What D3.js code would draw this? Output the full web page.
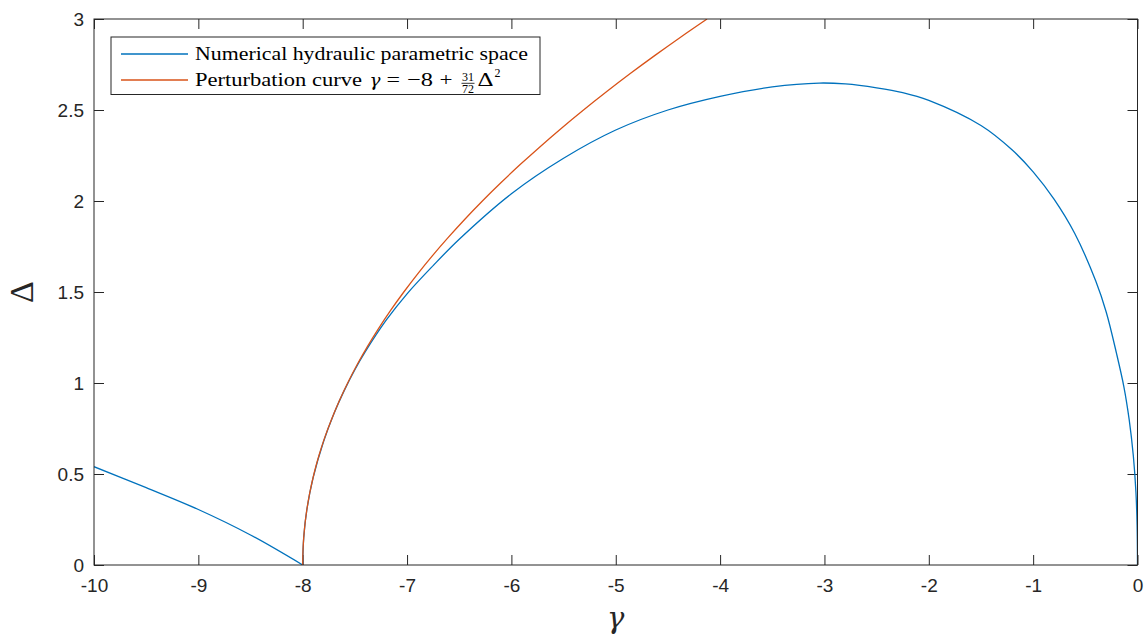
<!DOCTYPE html>
<html>
<head>
<meta charset="utf-8">
<script src="https://cdn.jsdelivr.net/npm/d3@7"></script>
<style>
  body { margin: 0; background: #fff; }
  svg { display: block; }
</style>
</head>
<body>
<svg id="chart" width="1146" height="637"></svg>
<script>
// Axis ticks
const gammaTicks = [-10, -9, -8, -7, -6, -5, -4, -3, -2, -1, 0];
const gammaTickLabels = ["-10", "-9", "-8", "-7", "-6", "-5", "-4", "-3", "-2", "-1", "0"];
const deltaTicks = [0, 0.5, 1, 1.5, 2, 2.5, 3];
const deltaTickLabels = ["0", "0.5", "1", "1.5", "2", "2.5", "3"];

// Numerical hydraulic parametric space: branch left of gamma = -8
const numLeftGamma = [-10, -9.5, -9, -8.5, -8];
const numLeftDelta = [0.54, 0.425, 0.305, 0.165, 0];

// Numerical hydraulic parametric space: arch from gamma = -8 to gamma = 0
const numArchGamma = [-8, -7.99, -7.96, -7.9, -7.8, -7.7, -7.6, -7.5, -7.4, -7.2, -7.0,
  -6.75, -6.5, -6.0, -5.5, -5.0, -4.5, -4.0, -3.5, -3.05, -2.8, -2.5, -2.25, -2.0, -1.5,
  -1.2, -1.0, -0.8, -0.6, -0.4, -0.3, -0.2, -0.13, -0.08, -0.04, -0.015, -0.004, 0];
const numArchDelta = [0, 0.152, 0.305, 0.48, 0.679, 0.833, 0.961, 1.073, 1.172, 1.345, 1.49,
  1.645, 1.79, 2.04, 2.235, 2.39, 2.50, 2.575, 2.627, 2.648, 2.643, 2.622, 2.596, 2.553, 2.415,
  2.28, 2.16, 2.01, 1.82, 1.56, 1.39, 1.16, 0.978, 0.80, 0.60, 0.40, 0.22, 0];

// Perturbation curve gamma = -8 + 31/72 Delta^2
const pertDelta = [0, 0.1, 0.2, 0.3, 0.4, 0.5, 0.6, 0.7, 0.8, 0.9, 1.0, 1.1, 1.2, 1.3, 1.4, 1.5,
  1.6, 1.7, 1.8, 1.9, 2.0, 2.1, 2.2, 2.3, 2.4, 2.5, 2.6, 2.7, 2.8, 2.9, 3.0];
const pertGamma = [-8, -7.9957, -7.9828, -7.9613, -7.9311, -7.8924, -7.845, -7.789, -7.724,
  -7.651, -7.569, -7.479, -7.380, -7.272, -7.156, -7.031, -6.898, -6.756, -6.605, -6.446,
  -6.278, -6.101, -5.916, -5.722, -5.520, -5.309, -5.089, -4.861, -4.624, -4.379, -4.125];

const seriesNames = ["Numerical hydraulic parametric space", "Perturbation curve"];
const seriesColors = ["#0072BD", "#D95319"];

const W = 1146, H = 637;
const margin = { left: 94, right: 8.5, top: 19, bottom: 72 };
const plotRight = W - margin.right, plotBottom = H - margin.bottom;

const svg = d3.select("#chart");
const x = d3.scaleLinear().domain([-10, 0]).range([margin.left, plotRight]);
const y = d3.scaleLinear().domain([0, 3]).range([plotBottom, margin.top]);

const axisColor = "#262626";
const tickFont = "'Liberation Sans', Arial, Helvetica, sans-serif";
const serif = "'Liberation Serif', 'Times New Roman', serif";
const greekSerif = "'DejaVu Serif', 'Liberation Serif', serif";

// Clip to the axes box
svg.append("defs").append("clipPath").attr("id", "plotClip")
  .append("rect")
  .attr("x", margin.left).attr("y", margin.top)
  .attr("width", plotRight - margin.left).attr("height", plotBottom - margin.top);

// Axes (ticks point inwards, on all four sides)
const bottomAxis = d3.axisBottom(x).tickValues(gammaTicks)
  .tickFormat((d, i) => gammaTickLabels[i]).tickSizeInner(-10).tickSizeOuter(0).tickPadding(14);
const topAxis = d3.axisTop(x).tickValues(gammaTicks).tickFormat("").tickSizeInner(-10).tickSizeOuter(0);
const leftAxis = d3.axisLeft(y).tickValues(deltaTicks)
  .tickFormat((d, i) => deltaTickLabels[i]).tickSizeInner(-10).tickSizeOuter(0).tickPadding(10);
const rightAxis = d3.axisRight(y).tickValues(deltaTicks).tickFormat("").tickSizeInner(-10).tickSizeOuter(0);

function styleAxis(g) {
  g.select(".domain").remove();
  g.selectAll(".tick line").attr("stroke", axisColor).attr("stroke-width", 1);
  g.selectAll(".tick text").attr("fill", axisColor)
    .style("font-family", tickFont).style("font-size", "19px");
}

svg.append("g").attr("transform", `translate(0,${plotBottom})`).call(bottomAxis).call(styleAxis);
svg.append("g").attr("transform", `translate(0,${margin.top})`).call(topAxis).call(styleAxis);
svg.append("g").attr("transform", `translate(${margin.left},0)`).call(leftAxis).call(styleAxis);
svg.append("g").attr("transform", `translate(${plotRight},0)`).call(rightAxis).call(styleAxis);

// Curves
const smooth = d3.curveCatmullRom.alpha(0.5);
const lineGD = d3.line().x(d => x(d[0])).y(d => y(d[1])).curve(smooth);

const plot = svg.append("g").attr("clip-path", "url(#plotClip)");
const numLeft = numLeftGamma.map((g, i) => [g, numLeftDelta[i]]);
const numArch = numArchGamma.map((g, i) => [g, numArchDelta[i]]);
const pert = pertDelta.map((d, i) => [pertGamma[i], d]);

[numLeft, numArch].forEach(seg => {
  plot.append("path").datum(seg).attr("d", lineGD)
    .attr("fill", "none").attr("stroke", seriesColors[0]).attr("stroke-width", 1.3);
});
plot.append("path").datum(pert).attr("d", lineGD)
  .attr("fill", "none").attr("stroke", seriesColors[1]).attr("stroke-width", 1.3);

// Axes box
svg.append("rect")
  .attr("x", margin.left).attr("y", margin.top)
  .attr("width", plotRight - margin.left).attr("height", plotBottom - margin.top)
  .attr("fill", "none").attr("stroke", axisColor).attr("stroke-width", 1);

// Axis labels
svg.append("text")
  .attr("x", x(-5)).attr("y", 628)
  .attr("text-anchor", "middle")
  .style("font-family", greekSerif).style("font-style", "italic").style("font-size", "29px")
  .attr("fill", axisColor)
  .text("γ");
svg.append("text")
  .attr("transform", `translate(33,${y(1.5)}) rotate(-90)`)
  .attr("text-anchor", "middle")
  .style("font-family", serif).style("font-size", "34px")
  .attr("fill", axisColor)
  .text("Δ");

// Legend
const legend = svg.append("g");
legend.append("rect")
  .attr("x", 111).attr("y", 37).attr("width", 429).attr("height", 57.5)
  .attr("fill", "#fff").attr("stroke", axisColor).attr("stroke-width", 1);

const rowY = [54, 80];
seriesColors.forEach((c, i) => {
  legend.append("line")
    .attr("x1", 121).attr("x2", 188).attr("y1", rowY[i]).attr("y2", rowY[i])
    .attr("stroke", c).attr("stroke-width", 1.3);
});

const legendFontSize = 19;
function legendText(txt, xPos, yPos, opts = {}) {
  const t = legend.append("text")
    .attr("x", xPos).attr("y", yPos)
    .style("font-family", opts.family || serif)
    .style("font-size", (opts.size || legendFontSize) + "px")
    .style("font-style", opts.italic ? "italic" : "normal")
    .attr("text-anchor", opts.anchor || "start")
    .attr("fill", "#000")
    .text(txt);
  if (opts.len) t.attr("textLength", opts.len).attr("lengthAdjust", "spacingAndGlyphs");
  return t;
}
legendText(seriesNames[0], 195, 59.5, { len: 333 });
legendText(seriesNames[1], 195, 85.5, { len: 167 });
legendText("γ", 369.5, 85.5, { italic: true, family: greekSerif, size: 17, len: 11 });
legendText("=", 386.5, 85.5, { len: 13.5 });
legendText("−8", 407, 85.5, { len: 26 });
legendText("+", 439.5, 85.5, { len: 13 });
legendText("31", 468, 80.5, { size: 12, anchor: "middle" });
legend.append("line").attr("x1", 461.5).attr("x2", 474.5).attr("y1", 83.3).attr("y2", 83.3)
  .attr("stroke", "#000").attr("stroke-width", 0.8);
legendText("72", 468, 93, { size: 12, anchor: "middle" });
legendText("Δ", 477.5, 85.5, { len: 16 });
legendText("2", 494.5, 77, { size: 12 });
</script>
</body>
</html>
